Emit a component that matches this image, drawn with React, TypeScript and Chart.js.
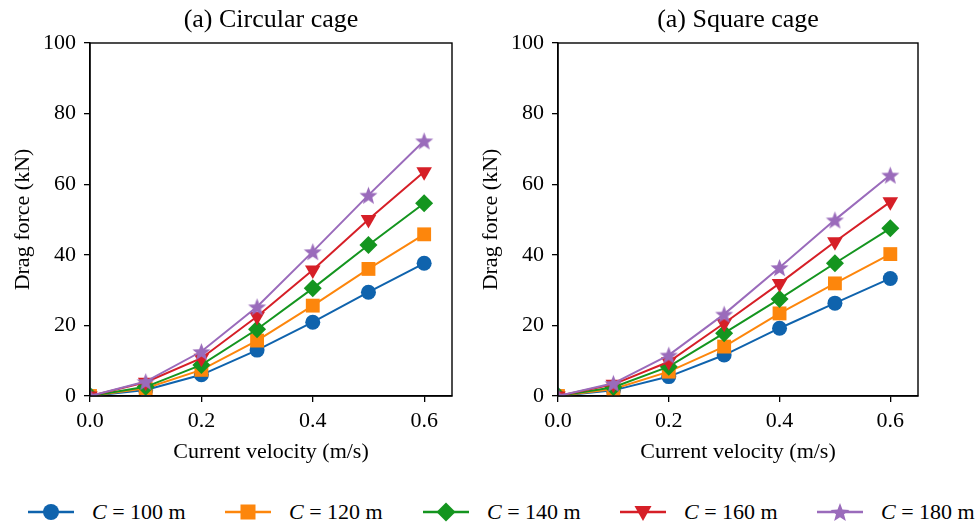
import React, { useEffect, useRef } from "react";
import { Chart, registerables } from "chart.js";

Chart.register(...registerables);

const velocities = [0, 0.1, 0.2, 0.3, 0.4, 0.5, 0.6];
const seriesLabels = ["100", "120", "140", "160", "180"];
const colors = ["#0f63ad", "#fd860c", "#14951f", "#d61f27", "#9a6bbb"];

const circC100 = [0, 1.7, 6.0, 13.0, 20.9, 29.4, 37.6];
const circC120 = [0, 2.2, 7.4, 15.7, 25.6, 36.0, 45.8];
const circC140 = [0, 2.6, 8.8, 18.9, 30.5, 42.8, 54.6];
const circC160 = [0, 3.9, 10.7, 22.5, 35.7, 50.0, 63.5];
const circC180 = [0, 4.1, 12.6, 25.3, 40.9, 56.9, 72.3];

const sqC100 = [0, 1.6, 5.5, 11.6, 19.2, 26.3, 33.3];
const sqC120 = [0, 2.0, 6.9, 14.0, 23.4, 31.9, 40.2];
const sqC140 = [0, 2.5, 8.3, 17.8, 27.5, 37.6, 47.5];
const sqC160 = [0, 3.3, 9.7, 20.6, 31.9, 43.7, 55.0];
const sqC180 = [0, 3.6, 11.6, 23.2, 36.4, 49.9, 62.6];

const xTicks = [0, 0.2, 0.4, 0.6];
const yTicks = [0, 20, 40, 60, 80, 100];

const FONT = "'Liberation Serif', 'Times New Roman', serif";

function makeStar(color: string, outer: number) {
  const size = Math.ceil(outer * 2 + 2);
  const c = document.createElement("canvas");
  c.width = size;
  c.height = size;
  const ctx = c.getContext("2d")!;
  const cx = size / 2;
  const cy = size / 2 + outer * 0.1;
  const inner = outer * 0.42;
  ctx.beginPath();
  for (let i = 0; i < 10; i++) {
    const r = i % 2 === 0 ? outer : inner;
    const a = -Math.PI / 2 + (i * Math.PI) / 5;
    const x = cx + r * Math.cos(a);
    const y = cy + r * Math.sin(a);
    if (i === 0) ctx.moveTo(x, y);
    else ctx.lineTo(x, y);
  }
  ctx.closePath();
  ctx.fillStyle = color;
  ctx.fill();
  return c;
}

const framePlugin = {
  id: "frame",
  afterDatasetsDraw(chart: any) {
    const { ctx, chartArea } = chart;
    ctx.save();
    ctx.strokeStyle = "#000";
    ctx.lineWidth = 1.4;
    ctx.strokeRect(chartArea.left, chartArea.top, chartArea.right - chartArea.left, chartArea.bottom - chartArea.top);
    ctx.restore();
  },
};

function buildDatasets(series: number[][]) {
  const star = makeStar(colors[4], 9.5);
  const styles: any[] = ["circle", "rect", "rectRot", "triangle", star];
  const radii = [7.5, 9.8, 9, 9, 9.5];
  return series.map((vals, i) => ({
    label: `C = ${seriesLabels[i]} m`,
    data: vals.map((v, j) => ({ x: velocities[j], y: v })),
    borderColor: colors[i],
    backgroundColor: colors[i],
    borderWidth: 2,
    pointStyle: styles[i],
    pointRotation: i === 3 ? 180 : 0,
    pointRadius: radii[i],
    pointBorderWidth: 0,
    pointBackgroundColor: colors[i],
    pointBorderColor: colors[i],
    clip: 0,
    order: 4 - i,
    tension: 0,
  }));
}

function makeOptions(title: string): any {
  const tickFont = { family: FONT, size: 22 };
  return {
    responsive: false,
    animation: false,
    layout: { padding: { left: 0, right: 18, top: 0, bottom: 0 } },
    plugins: {
      legend: { display: false },
      tooltip: { enabled: false },
      title: {
        display: true,
        text: title,
        fullSize: false,
        color: "#000",
        font: { family: FONT, size: 26, weight: "normal" },
        padding: { top: 4.4, bottom: 7.4 },
      },
    },
    scales: {
      x: {
        type: "linear",
        min: 0,
        max: 0.65,
        afterBuildTicks: (s: any) => {
          s.ticks = xTicks.map((v) => ({ value: v }));
        },
        afterFit: (s: any) => {
          s.height = 70;
        },
        ticks: {
          color: "#000",
          font: tickFont,
          padding: 6,
          maxRotation: 0,
          autoSkip: false,
          callback: (v: number) => Number(v).toFixed(1),
        },
        grid: { drawOnChartArea: false, drawTicks: true, tickLength: 6, color: "#000", lineWidth: 1.3 },
        border: { color: "#000", width: 1.4 },
        title: {
          display: true,
          text: "Current velocity (m/s)",
          color: "#000",
          font: { family: FONT, size: 22 },
          padding: { top: 4, bottom: 1 },
        },
      },
      y: {
        type: "linear",
        min: 0,
        max: 100,
        afterBuildTicks: (s: any) => {
          s.ticks = yTicks.map((v) => ({ value: v }));
        },
        afterFit: (s: any) => {
          s.width = 90;
        },
        ticks: { color: "#000", font: tickFont, padding: 8, autoSkip: false },
        grid: { drawOnChartArea: false, drawTicks: true, tickLength: 6, color: "#000", lineWidth: 1.3 },
        border: { color: "#000", width: 1.4 },
        title: {
          display: true,
          text: "Drag force (kN)",
          color: "#000",
          font: { family: FONT, size: 22 },
          padding: { top: 10, bottom: 4 },
        },
      },
    },
  };
}

function Panel(props: { title: string; series: number[][]; left: number; width: number }) {
  const ref = useRef<HTMLCanvasElement | null>(null);
  useEffect(() => {
    if (!ref.current) return;
    const chart = new Chart(ref.current, {
      type: "line",
      data: { datasets: buildDatasets(props.series) as any },
      options: makeOptions(props.title),
      plugins: [framePlugin],
    });
    return () => chart.destroy();
  }, []);
  return (
    <canvas
      ref={ref}
      width={props.width}
      height={466}
      style={{ position: "absolute", left: props.left, top: 0, width: props.width, height: 466 }}
    />
  );
}

function LegendMarker({ i }: { i: number }) {
  const c = colors[i];
  const cx = 23;
  const cy = 11;
  let shape: React.ReactNode = null;
  if (i === 0) shape = <circle cx={cx} cy={cy} r={8} fill={c} />;
  if (i === 1) shape = <rect x={cx - 7.5} y={cy - 7.5} width={15} height={15} fill={c} />;
  if (i === 2) shape = <polygon points={`${cx},${cy - 9.5} ${cx + 9.5},${cy} ${cx},${cy + 9.5} ${cx - 9.5},${cy}`} fill={c} />;
  if (i === 3) shape = <polygon points={`${cx - 8.5},${cy - 6} ${cx + 8.5},${cy - 6} ${cx},${cy + 9}`} fill={c} />;
  if (i === 4) {
    const pts: string[] = [];
    for (let k = 0; k < 10; k++) {
      const r = k % 2 === 0 ? 10 : 4.2;
      const a = -Math.PI / 2 + (k * Math.PI) / 5;
      pts.push(`${cx + r * Math.cos(a)},${cy + 1 + r * Math.sin(a)}`);
    }
    shape = <polygon points={pts.join(" ")} fill={c} />;
  }
  return (
    <svg width={46} height={22} style={{ display: "block" }}>
      <line x1={0} y1={cy} x2={46} y2={cy} stroke={c} strokeWidth={2.4} />
      {shape}
    </svg>
  );
}

const legendLefts = [28, 225, 423, 620, 817];

export default function App() {
  return (
    <div style={{ position: "fixed", left: 0, top: 0, width: 975, height: 526, background: "#fff", overflow: "hidden" }}>
      <Panel title="(a) Circular cage" series={[circC100, circC120, circC140, circC160, circC180]} left={0} width={470} />
      <Panel title="(a) Square cage" series={[sqC100, sqC120, sqC140, sqC160, sqC180]} left={468} width={468} />
      {seriesLabels.map((lab, i) => (
        <div
          key={lab}
          style={{
            position: "absolute",
            left: legendLefts[i],
            top: 499,
            height: 26,
            display: "flex",
            alignItems: "center",
            fontFamily: FONT,
            fontSize: 22,
            lineHeight: "26px",
            color: "#000",
            whiteSpace: "nowrap",
          }}
        >
          <LegendMarker i={i} />
          <span style={{ marginLeft: 18 }}>
            <i>C</i> = {lab} m
          </span>
        </div>
      ))}
    </div>
  );
}
